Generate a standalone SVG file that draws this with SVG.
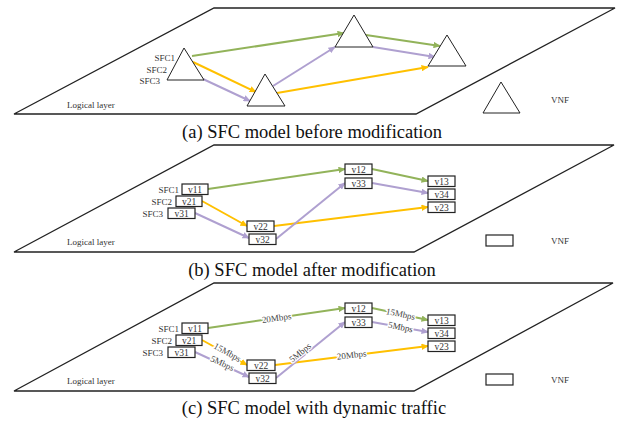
<svg xmlns="http://www.w3.org/2000/svg" width="619" height="422" viewBox="0 0 619 422">
<style>
.plane{fill:#fff;stroke:#222;stroke-width:1.3}
.tri{fill:#fff;stroke:#222;stroke-width:1}
.box{fill:#fff;stroke:#222;stroke-width:1.2}
.t{font-family:"Liberation Serif",serif;font-size:9px;fill:#333}
.bt{font-family:"Liberation Serif",serif;font-size:9.5px;fill:#333;text-anchor:middle}
.cap{font-family:"Liberation Serif",serif;font-size:18.5px;fill:#111;text-anchor:middle}
.lbl{font-family:"Liberation Serif",serif;font-size:9px;fill:#444;text-anchor:middle;stroke:#fff;stroke-width:2.5;paint-order:stroke}
.g{stroke:#92B35A;stroke-width:2;fill:none;marker-end:url(#ag)}
.y{stroke:#FFC000;stroke-width:2;fill:none;marker-end:url(#ay)}
.p{stroke:#AFA0D0;stroke-width:2;fill:none;marker-end:url(#ap)}
</style>
<defs>
<marker id="ag" viewBox="0 0 10 10" refX="9" refY="5" markerWidth="3.6" markerHeight="3.2" orient="auto" preserveAspectRatio="none"><path d="M0,0 L10,5 L0,10 z" fill="#92B35A"/></marker>
<marker id="ay" viewBox="0 0 10 10" refX="9" refY="5" markerWidth="3.6" markerHeight="3.2" orient="auto" preserveAspectRatio="none"><path d="M0,0 L10,5 L0,10 z" fill="#FFC000"/></marker>
<marker id="ap" viewBox="0 0 10 10" refX="9" refY="5" markerWidth="3.6" markerHeight="3.2" orient="auto" preserveAspectRatio="none"><path d="M0,0 L10,5 L0,10 z" fill="#AFA0D0"/></marker>
</defs>
<rect width="619" height="422" fill="#fff"/>

<!-- Panel (a) -->
<g id="panel-a">
<polygon class="plane" points="214,8 615,8 416,114 14,114"/>
<text class="t" x="67" y="108">Logical layer</text>
<text class="t" x="175" y="61" text-anchor="end">SFC1</text>
<text class="t" x="167" y="73" text-anchor="end">SFC2</text>
<text class="t" x="160" y="84" text-anchor="end">SFC3</text>
<g id="a-connectors">
<line class="g" x1="192" y1="56" x2="344" y2="33"/>
<line class="g" x1="366" y1="35" x2="440" y2="46"/>
<line class="y" x1="193" y1="62" x2="256" y2="92"/>
<line class="y" x1="277" y1="93" x2="428" y2="67"/>
<line class="p" x1="203" y1="79" x2="250" y2="101"/>
<line class="p" x1="273" y1="86" x2="335" y2="47"/>
<line class="p" x1="373" y1="47" x2="435" y2="57"/>
</g>
<g id="a-vnf1"><polygon class="tri" points="184,48 204,80 167,80"/></g>
<g id="a-vnf2"><polygon class="tri" points="265,74 285,106 247,106"/></g>
<g id="a-vnf3"><polygon class="tri" points="354,15 373,47 335,47"/></g>
<g id="a-vnf4"><polygon class="tri" points="447,35 466,66 428,66"/></g>
<g id="a-legend"><polygon class="tri" points="501,82 520,113 483,113"/><text class="t" x="551" y="103">VNF</text></g>
<text class="cap" x="312" y="138">(a) SFC model before modification</text>
</g>

<!-- Panel (b) -->
<g id="panel-b">
<polygon class="plane" points="214,145 614,145 414,252 14,252"/>
<text class="t" x="67" y="245">Logical layer</text>
<text class="t" x="179" y="193" text-anchor="end">SFC1</text>
<text class="t" x="172" y="205" text-anchor="end">SFC2</text>
<text class="t" x="163" y="217" text-anchor="end">SFC3</text>
<g id="b-connectors">
<line class="g" x1="208" y1="189" x2="345" y2="169"/>
<line class="g" x1="372" y1="169" x2="428" y2="181"/>
<line class="y" x1="202" y1="201" x2="247" y2="226"/>
<line class="y" x1="274" y1="226" x2="428" y2="207"/>
<line class="p" x1="195" y1="213" x2="249" y2="238"/>
<line class="p" x1="276" y1="239" x2="345" y2="183"/>
<line class="p" x1="372" y1="183" x2="428" y2="193"/>
</g>
<g id="b-v11"><rect class="box" x="182" y="184" width="26" height="10.5"/><text class="bt" x="195" y="192.5">v11</text></g>
<g id="b-v21"><rect class="box" x="176" y="196" width="26" height="10.5"/><text class="bt" x="189" y="204.5">v21</text></g>
<g id="b-v31"><rect class="box" x="168" y="208" width="27" height="10.5"/><text class="bt" x="181.5" y="216.5">v31</text></g>
<g id="b-v22"><rect class="box" x="247" y="221" width="27" height="10.5"/><text class="bt" x="260.5" y="229.5">v22</text></g>
<g id="b-v32"><rect class="box" x="249" y="234" width="27" height="10.5"/><text class="bt" x="262.5" y="242.5">v32</text></g>
<g id="b-v12"><rect class="box" x="345" y="164" width="27" height="10.5"/><text class="bt" x="358.5" y="172.5">v12</text></g>
<g id="b-v33"><rect class="box" x="345" y="178" width="27" height="10.5"/><text class="bt" x="358.5" y="186.5">v33</text></g>
<g id="b-v13"><rect class="box" x="428" y="176" width="27" height="10.5"/><text class="bt" x="441.5" y="184.5">v13</text></g>
<g id="b-v34"><rect class="box" x="428" y="189" width="27" height="10.5"/><text class="bt" x="441.5" y="197.5">v34</text></g>
<g id="b-v23"><rect class="box" x="428" y="202" width="27" height="10.5"/><text class="bt" x="441.5" y="210.5">v23</text></g>
<g id="b-legend"><rect class="box" x="486" y="235" width="27" height="11"/><text class="t" x="551" y="243.5">VNF</text></g>
<text class="cap" x="312" y="276">(b) SFC model after modification</text>
</g>

<!-- Panel (c) -->
<g id="panel-c">
<polygon class="plane" points="214,283 613,283 414,391 14,391"/>
<text class="t" x="67" y="384">Logical layer</text>
<text class="t" x="179" y="332" text-anchor="end">SFC1</text>
<text class="t" x="172" y="344" text-anchor="end">SFC2</text>
<text class="t" x="163" y="356" text-anchor="end">SFC3</text>
<g id="c-connectors">
<line class="g" x1="208" y1="328" x2="345" y2="308"/>
<line class="g" x1="372" y1="308" x2="428" y2="320"/>
<line class="y" x1="202" y1="340" x2="247" y2="365"/>
<line class="y" x1="275" y1="365" x2="428" y2="346"/>
<line class="p" x1="195" y1="352" x2="249" y2="377"/>
<line class="p" x1="276" y1="378" x2="345" y2="322"/>
<line class="p" x1="372" y1="322" x2="428" y2="332"/>
<text class="lbl" transform="translate(277,321) rotate(-8)">20Mbps</text>
<text class="lbl" transform="translate(226,355) rotate(29)">15Mbps</text>
<text class="lbl" transform="translate(221,366) rotate(25)">5Mbps</text>
<text class="lbl" transform="translate(302,355) rotate(-39)">5Mbps</text>
<text class="lbl" transform="translate(352,358) rotate(-7)">20Mbps</text>
<text class="lbl" transform="translate(400,317) rotate(12)">15Mbps</text>
<text class="lbl" transform="translate(400,330) rotate(11)">5Mbps</text>
</g>
<g id="c-v11"><rect class="box" x="182" y="323" width="26" height="10.5"/><text class="bt" x="195" y="331.5">v11</text></g>
<g id="c-v21"><rect class="box" x="176" y="335" width="26" height="10.5"/><text class="bt" x="189" y="343.5">v21</text></g>
<g id="c-v31"><rect class="box" x="168" y="347" width="27" height="10.5"/><text class="bt" x="181.5" y="355.5">v31</text></g>
<g id="c-v22"><rect class="box" x="247" y="360" width="28" height="10.5"/><text class="bt" x="261" y="368.5">v22</text></g>
<g id="c-v32"><rect class="box" x="249" y="373" width="27" height="10.5"/><text class="bt" x="262.5" y="381.5">v32</text></g>
<g id="c-v12"><rect class="box" x="345" y="303" width="27" height="10.5"/><text class="bt" x="358.5" y="311.5">v12</text></g>
<g id="c-v33"><rect class="box" x="345" y="317" width="27" height="10.5"/><text class="bt" x="358.5" y="325.5">v33</text></g>
<g id="c-v13"><rect class="box" x="428" y="315" width="27" height="10.5"/><text class="bt" x="441.5" y="323.5">v13</text></g>
<g id="c-v34"><rect class="box" x="428" y="328" width="27" height="10.5"/><text class="bt" x="441.5" y="336.5">v34</text></g>
<g id="c-v23"><rect class="box" x="428" y="341" width="27" height="10.5"/><text class="bt" x="441.5" y="349.5">v23</text></g>
<g id="c-legend"><rect class="box" x="486" y="374" width="27" height="11"/><text class="t" x="551" y="382.5">VNF</text></g>
<text class="cap" x="314" y="414">(c) SFC model with dynamic traffic</text>
</g>
</svg>
